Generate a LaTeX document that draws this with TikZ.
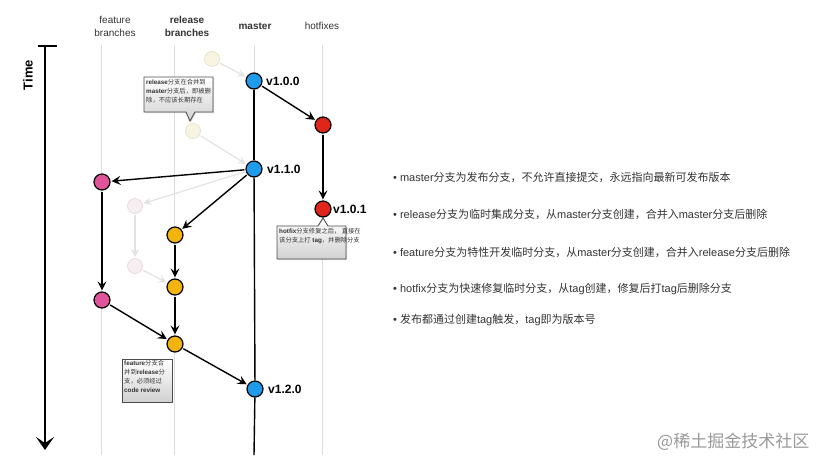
\documentclass[tikz,border=0pt]{standalone}
\usepackage{fontspec}
\setmainfont{Liberation Sans}
\newfontfamily\cjk{Noto Sans CJK SC}
\usetikzlibrary{arrows.meta,shadows}
\newcommand{\zh}[1]{{\cjk #1}}
\definecolor{cBlue}{HTML}{1E9BEA}
\definecolor{cRed}{HTML}{E0251B}
\definecolor{cPink}{HTML}{E0559A}
\definecolor{cOrange}{HTML}{F3B40D}
\definecolor{cGhostY}{HTML}{F7F5E2}
\definecolor{cGhostYd}{HTML}{E6E3CC}
\definecolor{cGhostP}{HTML}{F7EEF1}
\definecolor{cGhostPd}{HTML}{E9DADF}
\definecolor{cLane}{HTML}{DDDDDD}
\definecolor{cText}{HTML}{333333}
\definecolor{cGhostA}{HTML}{E2E2E2}
\begin{document}
\begin{tikzpicture}[x=1pt,y=-1pt,
  commit/.style={circle,draw=black,line width=1.2pt,minimum size=16pt,inner sep=0pt},
  blue/.style={commit,fill=cBlue},
  red/.style={commit,fill=cRed},
  pink/.style={commit,fill=cPink},
  orange/.style={commit,fill=cOrange},
  ghosty/.style={circle,draw=cGhostYd,fill=cGhostY,line width=0.8pt,minimum size=15pt,inner sep=0pt},
  ghostp/.style={circle,draw=cGhostPd,fill=cGhostP,line width=0.8pt,minimum size=15pt,inner sep=0pt},
  flow/.style={-{Stealth[length=9pt,width=9pt,inset=3.5pt]},line width=1.4pt,black,shorten >=1pt,shorten <=1pt},
  ghostflow/.style={-{Stealth[length=8pt,width=8pt,inset=3pt]},line width=1.2pt,cGhostA,shorten >=1pt,shorten <=1pt},
  lane/.style={cLane,line width=1pt},
  trunk/.style={black,line width=1.4pt},
  header/.style={font=\fontsize{10}{13}\selectfont,text=cText,align=center},
  ver/.style={font=\bfseries\fontsize{12}{14}\selectfont,anchor=west,inner sep=0pt},
  callout/.style={draw=black!70,line width=0.9pt,top color=white,bottom color=black!18,drop shadow={opacity=0.3,shadow xshift=1pt,shadow yshift=-1pt}},
  ctext/.style={font=\fontsize{6.3}{9.2}\selectfont,align=left,inner sep=0pt,anchor=north west,text=black!80},
  bullet/.style={font=\fontsize{11}{14}\selectfont,anchor=west,inner sep=0pt,text=cText}
]
\useasboundingbox (0,0) rectangle (829,467);

% headers
\node[header] (hF) at (115,26) {feature\\branches};
\node[header,font=\bfseries\fontsize{10}{13}\selectfont] (hR) at (187,26) {release\\branches};
\node[header,font=\bfseries\fontsize{10}{13}\selectfont] (hM) at (255,26) {master};
\node[header] (hH) at (322,26) {hotfixes};

% time axis
\node[font=\bfseries\fontsize{13}{15}\selectfont,rotate=90] (time) at (28,75) {Time};
\coordinate (tL) at (38,46);
\coordinate (tR) at (57,46);
\coordinate (tTop) at (45,46);
\coordinate (tBot) at (45,450);
\draw[line width=2pt] (tL) -- (tR);
\draw[line width=2pt,-{Stealth[length=13pt,width=18pt,inset=6pt]}] (tTop) -- (tBot);

% lanes
\coordinate (fTop) at (101,45); \coordinate (fBot) at (101,455);
\coordinate (rTop) at (174,45); \coordinate (rBot) at (174,455);
\coordinate (mTop) at (254,45); \coordinate (mBot) at (254,455);
\coordinate (xTop) at (322,45); \coordinate (xBot) at (322,455);
\draw[lane] (fTop) -- (fBot);
\draw[lane] (rTop) -- (rBot);
\draw[lane] (mTop) -- (mBot);
\draw[lane] (xTop) -- (xBot);

% commits
\node[ghosty] (g1) at (212,59) {};
\node[blue] (v100) at (254,81) {};
\node[red] (h1) at (323,125) {};
\node[ghosty] (g2) at (193,131) {};
\node[blue] (v110) at (254,169) {};
\node[pink] (p1) at (102,182) {};
\node[red] (h2) at (323,209) {};
\node[ghostp] (gp1) at (135,206) {};
\node[orange] (o1) at (175,235) {};
\node[ghostp] (gp2) at (135,266) {};
\node[orange] (o2) at (175,287) {};
\node[pink] (p2) at (102,300) {};
\node[orange] (o3) at (175,344) {};
\node[blue] (v120) at (255,389) {};

% master trunk
\draw[trunk] (v100) -- (v110);
\draw[trunk] (v110) -- (v120);
\draw[trunk] (v120) -- (mBot);

% labels
\node[ver] (l100) at (266,81) {v1.0.0};
\node[ver] (l110) at (267,169) {v1.1.0};
\node[ver] (l101) at (333,209) {v1.0.1};
\node[ver] (l120) at (268,389) {v1.2.0};

% flows
\draw[ghostflow] (g1) -- (v100);
\draw[ghostflow] (g2) -- (v110);
\draw[ghostflow] (v110) -- (gp1);
\draw[ghostflow] (gp1) -- (gp2);
\draw[ghostflow] (gp2) -- (o2);
\draw[flow] (v100) -- (h1);
\draw[flow] (h1) -- (h2);
\draw[flow] (v110) -- (p1);
\draw[flow] (v110) -- (o1);
\draw[flow] (o1) -- (o2);
\draw[flow] (o2) -- (o3);
\draw[flow] (p1) -- (p2);
\draw[flow] (p2) -- (o3);
\draw[flow] (o3) -- (v120);

% callouts
\draw[callout] (144,77) -- (213,77) -- (213,112) -- (195,112) -- (190,121) -- (186,112) -- (144,112) -- cycle;
\node[ctext] (c1) at (146,78.5) {\textbf{release}\zh{分支在合并到}\\\textbf{master}\zh{分支后，即被删}\\\zh{除，不应该长期存在}};

\draw[callout] (277,226) -- (318,226) -- (323,218) -- (328,226) -- (346,226) -- (346,259) -- (277,259) -- cycle;
\node[ctext] (c2) at (279,227.5) {\textbf{hotfix}\zh{分支修复之后，~直接在}\\\zh{该分支上打}~\textbf{tag}\zh{，并删除分支}};

\draw[callout] (122,359) -- (172,359) -- (172,402) -- (122,402) -- cycle;
\node[ctext] (c3) at (124,359.5) {\textbf{feature}\zh{分支合}\\\zh{并到}\textbf{release}\zh{分}\\\zh{支，必须经过}\\\textbf{code review}};

% bullets
\node[bullet] (b1) at (393,177) {•\hspace{3pt}master\zh{分支为发布分支，不允许直接提交，永远指向最新可发布版本}};
\node[bullet] (b2) at (393,214) {•\hspace{3pt}release\zh{分支为临时集成分支，从}master\zh{分支创建，合并入}master\zh{分支后删除}};
\node[bullet] (b3) at (393,252) {•\hspace{3pt}feature\zh{分支为特性开发临时分支，从}master\zh{分支创建，合并入}release\zh{分支后删除}};
\node[bullet] (b4) at (393,289) {•\hspace{3pt}hotfix\zh{分支为快速修复临时分支，从}tag\zh{创建，修复后打}tag\zh{后删除分支}};
\node[bullet] (b5) at (393,320) {•\hspace{3pt}\zh{发布都通过创建}tag\zh{触发，}tag\zh{即为版本号}};

% watermark
\node[font=\fontsize{17}{19}\selectfont,text=black!40,anchor=west,inner sep=0pt] (wm) at (657,442) {\zh{@稀土掘金技术社区}};
\end{tikzpicture}
\end{document}
